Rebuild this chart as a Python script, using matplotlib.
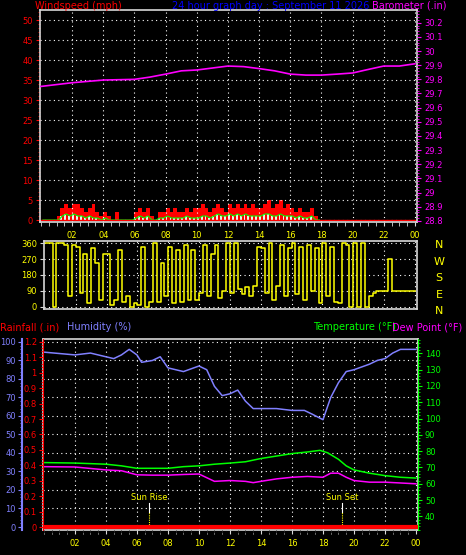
import matplotlib
matplotlib.use("Agg")
import matplotlib.pyplot as plt
from matplotlib.ticker import MultipleLocator, FixedLocator

# ---------------- data ----------------
baro_h = [0, 2, 4, 6, 7, 8, 9, 10, 11, 12, 13, 14, 15, 16, 17, 18, 19, 20, 21, 22, 23, 24]
baro = [29.75, 29.776, 29.795, 29.80, 29.816, 29.837, 29.86, 29.866, 29.88, 29.894, 29.89,
        29.876, 29.86, 29.837, 29.83, 29.83, 29.837, 29.845, 29.87, 29.894, 29.894, 29.91]

wind_h = [i * 0.25 for i in range(72)]
gust = [0,0,0,0, 1,3,4,3, 4,4,3,2, 3,4,2,1, 2,1,0,2, 0,0,0,0, 2,3,2,3, 1,0,2,2,
        3,2,3,2, 2,3,2,3, 3,4,3,2, 3,4,3,2, 4,3,4,3, 4,3,4,3, 3,4,5,3, 4,5,3,4,
        3,2,3,2, 2,3,1,0]
avg = [0,0,0,0, 0,1,1.5,1, 1.5,1,1,0.5, 1,0.5,0.5,0, 0.5,0,0,0, 0,0,0,0, 0.5,1,0.5,1,
       0,0,0.5,0.5, 1,0.5,0.5,0.5, 0.5,1,0.5,0.5, 0.5,1,1,0.5, 1,1.5,1,1, 1.5,1,1.5,1,
       1.5,1,1,1, 1,1.5,1.5,1, 1,1.5,1,1, 1,0.5,1,0.5, 0.5,1,0,0]

dir_h = [i * 0.25 for i in range(97)]
wdir = [360,360,0,360, 360,350,60,350, 340,80,300,20, 330,250,40,300, 300,10,40,320, 30,60,0,20,
        10,340,0,30, 360,30,250,60, 340,20,320,30, 350,40,320,40, 80,350,60,300, 350,50,90,360,
        80,360,100,70, 110,60,120,340, 330,80,360,40, 120,350,60,330, 360,70,340,40, 350,90,330,20,
        360,60,340,30, 20,360,350,0, 360,0,360,0, 60,80,90,90, 90,270,90,90,
        90,90,90,90, 90]

th = [0, 2, 3, 4, 4.5, 5, 5.5, 6, 6.3, 7, 7.5, 8, 9, 10, 10.5, 11, 11.5, 12, 12.5, 13, 13.5,
      14, 15, 16, 16.8, 17.3, 18, 18.5, 19, 19.5, 20, 21, 21.5, 22, 22.5, 23, 24]
hum = [94.5, 93, 94, 92, 91, 93, 96, 93, 89, 90, 92, 86, 84, 87, 85, 76, 71, 72, 74, 68, 64,
       64, 64, 63, 63, 61, 58, 70, 78, 84, 85, 88, 90, 91, 94, 96, 96]

tt = [0, 2, 4, 5, 6, 8, 9, 10, 11, 12, 13, 14, 15, 16, 17, 17.8, 18.3, 19, 19.5, 20, 21, 22, 23, 24]
temp = [73, 72.7, 72, 71, 69.5, 69.5, 70.5, 71, 72, 72.7, 73.5, 75.5, 77, 78.5, 79.5, 80.5,
        79, 75, 71, 68.5, 66.5, 65, 64, 63.5]
dt = [0, 2, 4, 5, 6, 7, 8, 9, 10, 11, 12, 13, 13.5, 14, 15, 16, 17, 18, 18.5, 19, 19.5, 20, 21, 22, 23, 24]
dew = [70.5, 70.3, 68.5, 68, 65.5, 65.3, 65.3, 65.7, 66, 61.5, 62, 61.5, 60.7, 61.5, 63, 64,
       64.5, 64, 66.5, 66.5, 64, 62, 61, 61, 60.5, 60]

rain_h = [0, 24]
rain = [0, 0]

hour_labels = ["02", "04", "06", "08", "10", "12", "14", "16", "18", "20", "22", "00"]
hour_ticks = [2, 4, 6, 8, 10, 12, 14, 16, 18, 20, 22, 24]
sun_rise, sun_set = 6.8, 19.25

# ---------------- layout ----------------
W, H = 466, 555
fig = plt.figure(figsize=(W / 100, H / 100), dpi=100, facecolor="black")
FS = 6.0
XMIN, XMAX = -0.06, 24.13

def ax_px(l, t, r, b):
    return fig.add_axes([l / W, 1 - b / H, (r - l) / W, (b - t) / H], facecolor="black")

def style(ax):
    for s in ax.spines.values():
        s.set_color("#d8d8d8")
        s.set_linewidth(1.2)
    ax.grid(True, color="white", linestyle=(0, (1, 3)), linewidth=0.8)

# top panel
ax1 = ax_px(40, 10, 417, 222)
style(ax1)
ax1.set_xlim(XMIN, XMAX)
ax1.set_ylim(-0.5, 52.5)
ax1.bar(wind_h, gust, width=0.25, align="edge", color="red", linewidth=0)
ax1.bar(wind_h, avg, width=0.12, align="edge", color="#e8f8e8", linewidth=0)
ax1.plot([w + 0.125 for w in wind_h], avg, color="#00ff00", lw=0.8)
ax1.plot([0, 24], [0, 0], color="red", lw=1)
ax1.yaxis.set_major_locator(MultipleLocator(5))
ax1.yaxis.set_minor_locator(MultipleLocator(1))
ax1.xaxis.set_major_locator(FixedLocator(hour_ticks))
ax1.xaxis.set_minor_locator(MultipleLocator(0.5))
ax1.set_xticklabels(hour_labels)
ax1.tick_params(axis="y", colors="red", labelsize=FS, length=3, pad=2)
ax1.tick_params(axis="y", which="minor", colors="red", length=1.5)
ax1.tick_params(axis="x", which="both", colors="#d8d8d8", labelcolor="yellow", labelsize=FS, length=3)
ax1b = ax1.twinx()
ax1b.set_ylim(28.792, 30.29)
ax1b.plot(baro_h, baro, color="magenta", lw=1.2)
ax1b.set_yticks([round(28.8 + 0.1 * i, 1) for i in range(15)])
ax1b.set_yticklabels(["%g" % round(28.8 + 0.1 * i, 1) for i in range(15)])
ax1b.yaxis.set_minor_locator(MultipleLocator(0.02))
ax1b.tick_params(axis="y", which="both", colors="magenta", labelsize=FS, length=3, pad=2)
ax1b.tick_params(axis="y", which="minor", length=1.5)
for s in ax1b.spines.values():
    s.set_visible(False)
fig.text(35 / W, 1 - 1 / H, "Windspeed (mph)", color="red", fontsize=7, va="top")
fig.text(172 / W, 1 - 1 / H, "24 hour graph day : September 11 2026", color="blue", fontsize=7, va="top")
fig.text(372 / W, 1 - 1 / H, "Barometer (.in)", color="magenta", fontsize=7, va="top")

# middle panel
ax2 = ax_px(44, 241, 417, 309)
style(ax2)
ax2.set_xlim(XMIN, XMAX)
ax2.set_ylim(-12, 372)
ax2.plot(dir_h, wdir, color="yellow", lw=1.1, drawstyle="steps-post")
ax2.set_yticks([0, 90, 180, 270, 360])
ax2.xaxis.set_major_locator(FixedLocator(hour_ticks))
ax2.set_xticklabels([])
ax2.tick_params(axis="x", length=0)
ax2.tick_params(axis="y", colors="#d8d8d8", labelcolor="yellow", labelsize=FS, length=3, pad=2)
for i, c in enumerate("NWSEN"):
    fig.text(439 / W, 1 - (245 + 16.5 * i) / H, c, color="yellow", fontsize=8, ha="center", va="center")

fig.text(0, 1 - 327 / H, "Rainfall (.in)", color="red", fontsize=7, va="center")
fig.text(67 / W, 1 - 327 / H, "Humidity (%)", color="#8080ff", fontsize=7, va="center")
fig.text(313 / W, 1 - 327 / H, "Temperature (°F)", color="#00ff00", fontsize=7, va="center")
fig.text(392 / W, 1 - 327 / H, "Dew Point (°F)", color="magenta", fontsize=7, va="center")

# bottom panel
ax3 = ax_px(43, 339, 418, 530)
style(ax3)
ax3.set_xlim(XMIN, XMAX)
ax3.set_ylim(-1.62, 101.6)
ax3.plot(th, hum, color="#8080ff", lw=1.1)
ax3.set_yticks(range(0, 101, 10))
ax3.set_yticklabels([])
ax3.tick_params(axis="y", length=0)
ax3.xaxis.set_major_locator(FixedLocator(hour_ticks))
ax3.xaxis.set_minor_locator(MultipleLocator(0.5))
ax3.set_xticklabels(hour_labels)
ax3.tick_params(axis="x", which="both", colors="#d8d8d8", labelcolor="yellow", labelsize=FS, length=3)

# temperature axis right
axt = ax3.twinx()
axt.set_ylim(31.7, 148.7)
axt.plot(tt, temp, color="#00ff00", lw=1.1)
axt.plot(dt, dew, color="magenta", lw=1.1)
axt.set_yticks(range(40, 141, 10))
axt.yaxis.set_minor_locator(MultipleLocator(2))
axt.tick_params(axis="y", which="both", colors="#00ff00", labelsize=FS, length=3, pad=2)
axt.tick_params(axis="y", which="minor", length=1.5)
for s in axt.spines.values():
    s.set_visible(False)
axt.spines["right"].set_visible(True)
axt.spines["right"].set_color("#00ff00")

# rain axis (left spine)
axr = ax3.twinx()
axr.set_ylim(-1.62 * 0.012, 101.6 * 0.012)
axr.yaxis.tick_left()
axr.plot(rain_h, rain, color="red", lw=3)
axr.set_yticks([round(0.1 * i, 1) for i in range(13)])
axr.set_yticklabels(["%g" % round(0.1 * i, 1) for i in range(13)])
axr.yaxis.set_minor_locator(MultipleLocator(0.02))
axr.tick_params(axis="y", which="both", colors="red", labelsize=FS, length=3, pad=1.5)
axr.tick_params(axis="y", which="minor", length=1.5)
for s in axr.spines.values():
    s.set_visible(False)
axr.spines["left"].set_visible(True)
axr.spines["left"].set_color("red")

# humidity axis further left
axh = fig.add_axes(ax3.get_position(), facecolor="none", sharex=ax3)
axh.set_ylim(-1.62, 101.6)
axh.yaxis.tick_left()
for s in axh.spines.values():
    s.set_visible(False)
axh.spines["left"].set_visible(True)
axh.spines["left"].set_position(("outward", 15))
axh.spines["left"].set_color("#8080ff")
axh.spines["left"].set_linewidth(1.5)
axh.set_yticks(range(0, 101, 10))
axh.yaxis.set_minor_locator(MultipleLocator(2))
axh.tick_params(axis="y", which="both", colors="#8080ff", labelsize=FS, length=3, pad=1.5)
axh.tick_params(axis="y", which="minor", length=1.5)
axh.tick_params(axis="x", length=0, labelbottom=False)

for x, lab in [(sun_rise, "Sun Rise"), (sun_set, "Sun Set")]:
    ax3.plot([x, x], [0, 8], color="yellow", lw=0.8, linestyle=(0, (1, 1)))
    ax3.plot([x, x], [8, 13], color="white", lw=0.8)
    ax3.text(x, 16, lab, color="yellow", fontsize=FS, ha="center", va="center")

fig.savefig("out.png", dpi=100, facecolor="black")
